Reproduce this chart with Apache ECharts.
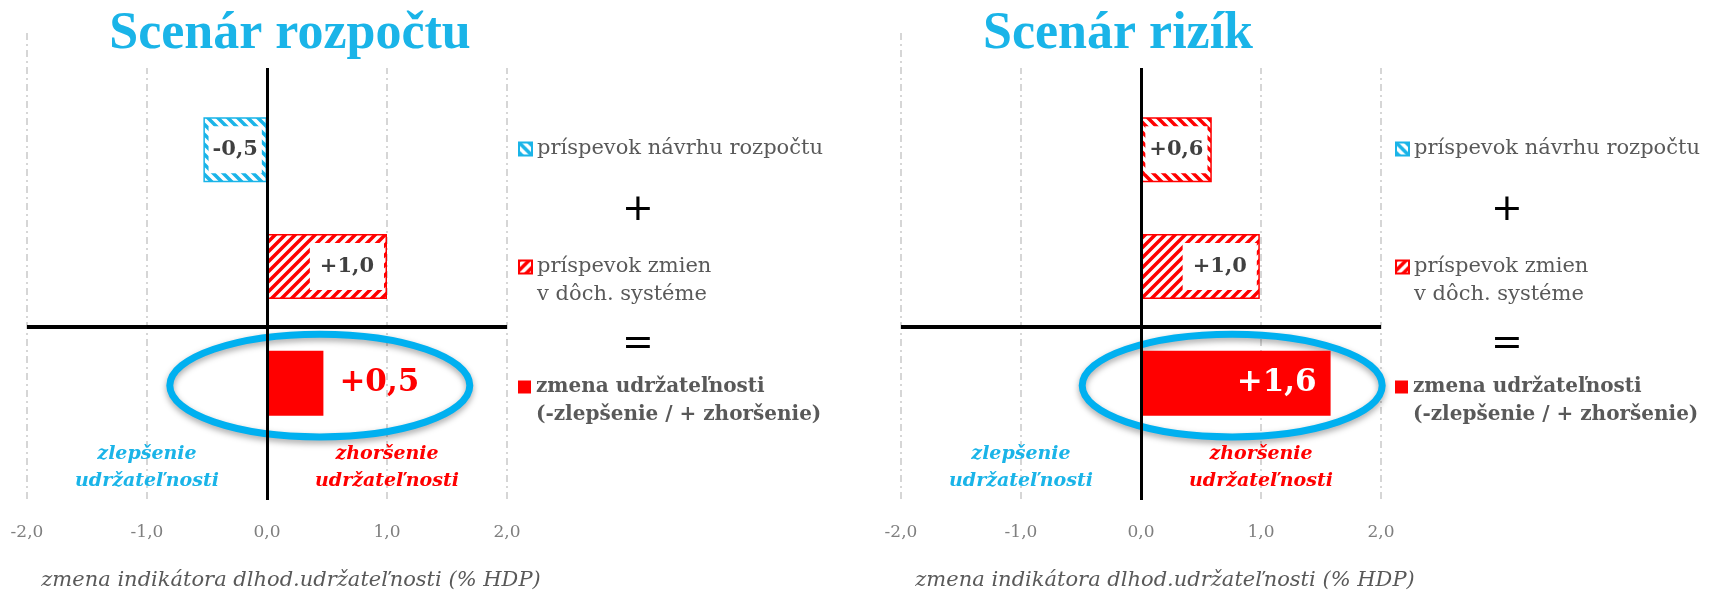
<!DOCTYPE html>
<html>
<head>
<meta charset="utf-8">
<script src="https://cdn.jsdelivr.net/npm/echarts@6/dist/echarts.min.js"></script>
<style>
html, body { margin: 0; padding: 0; background: #fff; }
#main { width: 1717px; height: 590px; }
</style>
</head>
<body>
<div id="main"></div>
<script>
// rows of each panel, top to bottom
const categories = ['návrh rozpočtu', 'dôchodkový systém', 'spolu'];
const legendNames = [
	'príspevok návrhu rozpočtu',
	'príspevok zmien\nv dôch. systéme',
	'zmena udržateľnosti\n(-zlepšenie / + zhoršenie)'
];
const panelTitles = ['Scenár rozpočtu', 'Scenár rizík'];
const budgetScenario = [-0.53, 1.0, 0.47];
const riskScenario = [0.59, 0.99, 1.58];
const xTicks = [-2, -1, 0, 1, 2];
const axisTitle = 'zmena indikátora dlhod.udržateľnosti (% HDP)';
const sideTexts = ['zlepšenie\nudržateľnosti', 'zhoršenie\nudržateľnosti'];

const SERIF = '"DejaVu Serif", serif';
const RED = '#ff0000';
const BLUE = '#1ab4e8';
const RING = '#00b0f0';
const GRAY = '#595959';

function hatch(color, dir) {
	let c = document.createElement('canvas');
	c.width = c.height = 10;
	let g = c.getContext('2d');
	g.fillStyle = '#fff';
	g.fillRect(0, 0, 10, 10);
	g.strokeStyle = color;
	g.lineWidth = 3.5;
	g.beginPath();
	if (dir === '/') {
		g.moveTo(-2, 12); g.lineTo(12, -2);
		g.moveTo(-2, 2); g.lineTo(2, -2);
		g.moveTo(8, 12); g.lineTo(12, 8);
	} else {
		g.moveTo(-2, -2); g.lineTo(12, 12);
		g.moveTo(-2, 8); g.lineTo(2, 12);
		g.moveTo(8, -2); g.lineTo(12, 2);
	}
	g.stroke();
	return { image: c, repeat: 'repeat' };
}

function fmt(v) {
	return (v > 0 ? '+' : '') + v.toFixed(1).replace('.', ',');
}

const panels = [
	{ title: panelTitles[0], values: budgetScenario, first: BLUE, left: 27, titleX: 290, legendX: 518, opX: 638, ringX: 0.44,
	  totalLabel: { position: 'right', distance: 16, color: RED } },
	{ title: panelTitles[1], values: riskScenario, first: RED, left: 901, titleX: 1118, legendX: 1395, opX: 1507, ringX: 0.76,
	  totalLabel: { position: 'insideRight', distance: 14, color: '#fff' } }
];

const ROW = 116.75;
const legendTops = [135, 225, 345];

let grid = [], xAxis = [], yAxis = [], series = [], legend = [];

panels.forEach((p, k) => {
	grid.push({ left: p.left, top: 33, width: 480, height: ROW * 4, outerBoundsMode: 'none' });
	grid.push({ left: p.left, top: 33 + ROW / 2, width: 480, height: ROW * 3, outerBoundsMode: 'none' });

	xAxis.push({
		type: 'value', gridIndex: 2 * k, min: xTicks[0], max: xTicks[xTicks.length - 1], interval: 1,
		axisLine: { show: false }, axisTick: { show: false },
		axisLabel: { formatter: v => v.toFixed(1).replace('.', ','), color: '#7f7f7f', fontSize: 17, fontFamily: SERIF, margin: 24 },
		splitLine: { show: true, lineStyle: { color: '#d6d6d6', width: 2, type: [7, 4, 2, 4] } },
		name: axisTitle, nameLocation: 'middle', nameGap: 70,
		nameTextStyle: { fontStyle: 'italic', fontSize: 21, color: GRAY, fontFamily: SERIF, padding: [0, 0, 0, 48] }
	});
	xAxis.push({ type: 'value', gridIndex: 2 * k + 1, min: -2, max: 2, show: false });
	yAxis.push({ type: 'value', gridIndex: 2 * k, inverse: true, min: -0.5, max: 3.5, show: false });
	yAxis.push({ type: 'category', gridIndex: 2 * k + 1, inverse: true, data: categories, show: false });

	series.push({
		type: 'line', xAxisIndex: 2 * k, yAxisIndex: 2 * k, data: [], silent: true,
		markLine: {
			silent: true, symbol: 'none', label: { show: false },
			lineStyle: { color: '#000', type: 'solid' },
			data: [
				{ xAxis: 0, lineStyle: { width: 3 } },
				{ yAxis: 2.02, lineStyle: { width: 4 } }
			]
		}
	});

	for (let i = 0; i < 3; i++) {
		let itemStyle, label;
		if (i === 0) {
			itemStyle = { color: hatch(p.first, '\\'), borderColor: p.first, borderWidth: 1.5 };
			label = { show: true, position: 'inside', backgroundColor: '#fff', padding: [13, 4] };
		} else if (i === 1) {
			itemStyle = { color: hatch(RED, '/'), borderColor: RED, borderWidth: 1.5 };
			label = { show: true, position: 'insideRight', distance: 3, backgroundColor: '#fff', padding: [13, 10] };
		} else {
			itemStyle = { color: RED };
			label = Object.assign({ show: true, fontSize: 31 }, p.totalLabel);
		}
		label = Object.assign({ fontSize: 21, fontWeight: 'bold', color: '#404040', fontFamily: SERIF, formatter: q => fmt(q.value) }, label);
		series.push({
			type: 'bar', name: legendNames[i], xAxisIndex: 2 * k + 1, yAxisIndex: 2 * k + 1,
			data: categories.map((c, j) => j === i ? p.values[i] : '-'),
			barWidth: 65, barGap: '-100%', itemStyle: itemStyle, label: label
		});
		legend.push({
			data: [legendNames[i]], left: p.legendX, top: legendTops[i], padding: 0,
			itemWidth: 13, itemHeight: 13, icon: 'rect', selectedMode: false,
			// a leading blank line keeps the icon level with the first line
			formatter: name => (i > 0 ? '\n' : '') + name,
			textStyle: {
				fontFamily: SERIF, fontSize: i === 2 ? 20 : 21, color: GRAY, lineHeight: 28,
				fontWeight: i === 2 ? 'bold' : 'normal'
			}
		});
	}
});

const myChart = echarts.init(document.getElementById('main'));
myChart.setOption({
	animation: false,
	grid: grid, xAxis: xAxis, yAxis: yAxis, series: series, legend: legend
});

let graphic = [];
panels.forEach((p, k) => {
	let c = myChart.convertToPixel({ gridIndex: 2 * k }, [p.ringX, 2.52]);
	let e = myChart.convertToPixel({ gridIndex: 2 * k }, [p.ringX + 1.25, 2.96]);
	graphic.push({
		type: 'ellipse', z: 1,
		shape: { cx: c[0], cy: c[1], rx: e[0] - c[0], ry: e[1] - c[1] },
		style: { fill: 'none', stroke: RING, lineWidth: 7, shadowBlur: 6, shadowColor: 'rgba(0,0,0,0.35)', shadowOffsetY: 3 }
	});
	// white band over the top of the plot, as in the original
	graphic.push({ type: 'rect', z: 100, shape: { x: p.left + 8, y: 33, width: 490, height: 35 }, style: { fill: '#fff' } });
	graphic.push({
		type: 'text', z: 200, x: p.titleX, y: 35,
		style: { text: p.title, fill: BLUE, fontFamily: '"Liberation Serif", serif', fontWeight: 'bold', fontSize: 52, align: 'center', verticalAlign: 'middle' }
	});
	[-1.0, 1.0].forEach((xv, s) => {
		let pt = myChart.convertToPixel({ gridIndex: 2 * k }, [xv, 3.22]);
		graphic.push({
			type: 'text', z: 10, x: pt[0], y: pt[1],
			style: { text: sideTexts[s], fill: s === 0 ? BLUE : RED, fontFamily: SERIF, fontStyle: 'italic', fontWeight: 'bold',
				fontSize: 19, lineHeight: 27, align: 'center', verticalAlign: 'middle' }
		});
	});
	[['+', 210], ['=', 344]].forEach(o => {
		graphic.push({
			type: 'text', z: 10, x: p.opX, y: o[1],
			style: { text: o[0], fill: '#000', fontFamily: '"DejaVu Sans", sans-serif', fontSize: 38, align: 'center', verticalAlign: 'middle' }
		});
	});
});
myChart.setOption({ graphic: graphic });
</script>
</body>
</html>
